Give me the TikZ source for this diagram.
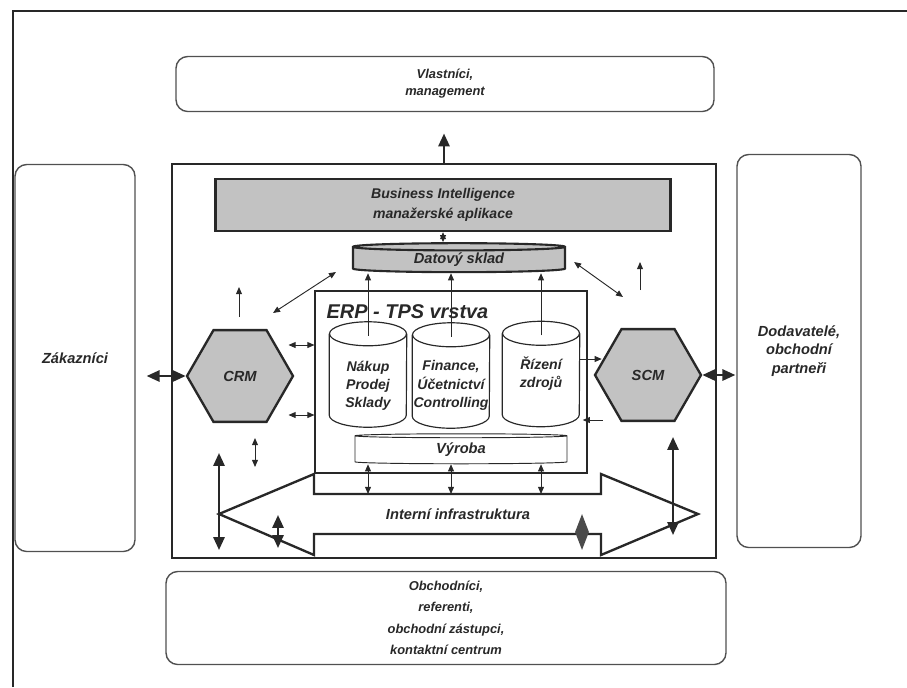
\documentclass[tikz,border=0pt]{standalone}
\usepackage{fontspec}
\setmainfont{Liberation Sans}
\usetikzlibrary{shapes.geometric,arrows.meta,positioning,calc}
\definecolor{inkgray}{RGB}{40,40,40}
\definecolor{framegray}{RGB}{80,80,80}
\definecolor{fillgray}{RGB}{194,194,194}
\definecolor{darkfill}{RGB}{75,75,75}
\newcommand{\pxl}{0.03cm}

\begin{document}
\begin{tikzpicture}[x=0.03cm, y=-0.03cm,
    txt/.style={font=\fontsize{11}{14.5}\selectfont\bfseries\itshape, text=inkgray, align=center},
    party/.style={txt, draw=framegray, line width=1.2pt, rounded corners=0.35cm, inner sep=0pt},
    sidetxt/.style={font=\fontsize{12.5}{15.6}\selectfont\bfseries\itshape},
    layer/.style={draw=inkgray, line width=0.9pt, inner sep=0pt},
    hexa/.style={txt, regular polygon, regular polygon sides=6, draw=inkgray, line width=2pt,
                 fill=fillgray, inner sep=0pt, minimum size=106*\pxl,
                 font=\fontsize{12.5}{14}\selectfont\bfseries\itshape},
    disk/.style={txt, cylinder, shape border rotate=90, draw=inkgray, inner sep=0pt,
                 shape aspect=0.08, minimum width=212*\pxl,
                 font=\fontsize{12.5}{14}\selectfont\bfseries\itshape},
    dbbox/.style={inner sep=0pt, minimum width=77*\pxl, minimum height=105*\pxl},
    dbline/.style={draw=inkgray, line width=1pt},
    dbtext/.style={txt, inner sep=0pt, font=\fontsize{12}{15.5}\selectfont\bfseries\itshape},
    small/.style={draw=inkgray, line width=0.8pt, arrows={-Triangle[length=6pt,width=5pt]}},
    smalltwo/.style={small, arrows={Triangle[length=6pt,width=5pt]-Triangle[length=6pt,width=5pt]}},
    big/.style={draw=inkgray, line width=2pt, arrows={-Triangle[length=11pt,width=9.5pt]}},
    bigtwo/.style={big, arrows={Triangle[length=11pt,width=9.5pt]-Triangle[length=11pt,width=9.5pt]}}
  ]
  \useasboundingbox (0,0) rectangle (907,687);
  \draw[inkgray, line width=1.3pt] (13,687) -- (13,11) -- (907,11);

  % outer partners
  \node[party, minimum width=538*\pxl, minimum height=55*\pxl] (vlast) at (445,84) {Vlastníci,\\management};
  \node[party, sidetxt, minimum width=120*\pxl, minimum height=387*\pxl] (zak) at (75,358) {Zákazníci};
  \node[party, sidetxt, minimum width=124*\pxl, minimum height=393*\pxl] (dodav) at (799,351) {Dodavatelé,\\obchodní\\partneři};
  \node[party, minimum width=560*\pxl, minimum height=93*\pxl, font=\fontsize{11}{18.3}\selectfont\bfseries\itshape]
       (obch) at (446,618) {Obchodníci,\\referenti,\\obchodní zástupci,\\kontaktní centrum};

  % information system
  \node[layer, minimum width=544*\pxl, minimum height=394*\pxl] (core) at (444,361) {};
  \node[txt, layer, line width=2pt, fill=fillgray, minimum width=455*\pxl, minimum height=52*\pxl,
        font=\fontsize{12}{17}\selectfont\bfseries\itshape] (bi) at (443,205)
       {Business Intelligence\\manažerské aplikace};
  \node[disk, fill=fillgray, line width=1.8pt, minimum height=29*\pxl] (sklad) at (459,260) {Datový sklad};
  \node[layer, minimum width=272*\pxl, minimum height=182*\pxl] (erp) at (451,382) {};
  \node[txt, inner sep=0pt, font=\fontsize{17}{19}\selectfont\bfseries\itshape,
        below right=0.42cm and 0.36cm of erp.north west] (erplabel) {ERP - TPS vrstva};
  \node[dbbox] (nakup)  at (368,374.5) {};
  \node[dbbox] (fin)    at (451,375.5) {};
  \node[dbbox] (rizeni) at (541,374) {};
  \foreach \c in {nakup,fin,rizeni}{
    \draw[dbline] ($(\c.north)+(0,12)$) ellipse [x radius=38.5*\pxl, y radius=12*\pxl];
    \draw[dbline] ($(\c.north west)+(0,12)$) -- ($(\c.south west)+(0,-12)$)
        arc[start angle=180, end angle=360, x radius=38.5*\pxl, y radius=12*\pxl]
        -- ($(\c.north east)+(0,12)$);
  }
  \node[dbtext] (nakuptxt)  at ($(nakup)+(0,11)$) {Nákup\\Prodej\\Sklady};
  \node[dbtext] (fintxt)    at ($(fin)+(0,10)$) {Finance,\\Účetnictví\\Controlling};
  \node[dbtext] (rizenitxt) at ($(rizeni)+(0,0)$) {Řízení\\zdrojů};
  \node[disk, line width=0.8pt, minimum height=30*\pxl] (vyroba) at (461,450) {Výroba};
  \node[hexa] (crm) at (240,376) {CRM};
  \node[hexa] (scm) at (648,375) {SCM};

  % internal infrastructure arrow
  \coordinate (ltip) at (219,514);
  \coordinate (rtip) at (698,514);
  \draw[inkgray, line width=2pt, fill=white, line join=miter]
       (ltip) -- (314,474) -- (314,494) -- (601,494) -- (601,474) -- (rtip)
       -- (601,555) -- (601,534) -- (314,534) -- (314,555) -- cycle;
  \node[txt, font=\fontsize{12.5}{14}\selectfont\bfseries\itshape] (infra) at (458,514) {Interní infrastruktura};
  \node[diamond, fill=darkfill, inner sep=0pt, minimum width=14*\pxl, minimum height=36*\pxl] (knot) at (582,532) {};

  % links between the layers
  \draw[big] (core.north) -- ++(0,-30);
  \draw[smalltwo] (bi.south) -- (bi.south |- sklad.north);
  \foreach \c in {nakup,fin,rizeni}
    \draw[small] ($(\c.north)+(0,14)$) -- (\c.north |- sklad.south);
  \foreach \c in {nakup,fin,rizeni}
    \draw[smalltwo] (\c |- vyroba.south) -- (\c |- 0,494);

  \draw[bigtwo] (crm.west) -- ++(-39,0);
  \draw[bigtwo] (scm.east) -- ++(33,0);
  \draw[smalltwo] ($(erp.west)+(0,-37)$) -- ++(-26,0);
  \draw[smalltwo] ($(erp.west)+(0,33)$) -- ++(-26,0);
  \draw[small] ($(crm)+(-1,-59)$) -- ++(0,-30);
  \draw[smalltwo] ($(crm)+(15,62)$) -- ++(0,29);
  \draw[smalltwo] ($(crm)+(33,-63)$) -- ($(sklad.west)+(-16,12)$);
  \draw[smalltwo] ($(sklad.east)+(8,2)$) -- ($(scm)+(-25,-78)$);
  \draw[small] ($(scm)+(-8,-85)$) -- ++(0,-28);
  \draw[small] ($(rizeni.east)+(0,-15)$) -- ++(22,0);
  \draw[small] ($(rizeni.east)+(23,46)$) -- ++(-20,0);

  % vertical links through the infrastructure
  \draw[bigtwo] ($(ltip)+(0,-61)$) -- ++(0,97);
  \draw[bigtwo] ($(rtip)+(-25,-77)$) -- ++(0,98);
  \draw[bigtwo] ($(ltip)+(59,1)$) -- ++(0,33);
\end{tikzpicture}
\end{document}
